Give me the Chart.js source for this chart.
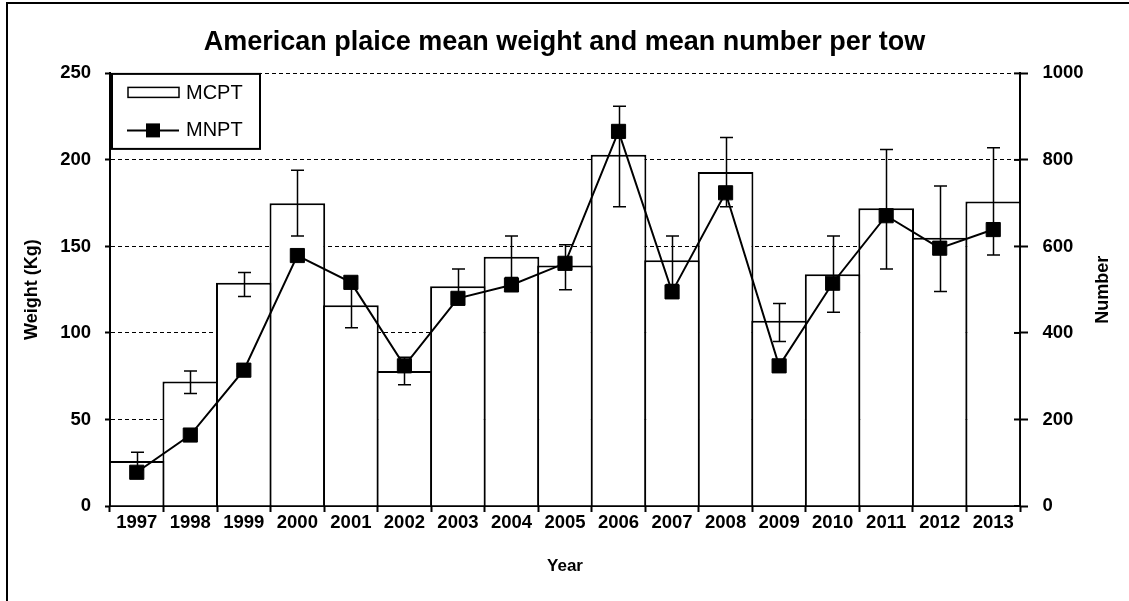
<!DOCTYPE html>
<html>
<head>
<meta charset="utf-8">
<title>American plaice mean weight and mean number per tow</title>
<script src="https://cdn.jsdelivr.net/npm/chart.js"></script>
<style>
    html, body { margin: 0; padding: 0; background: #fff; }
    #wrap { width: 1129px; height: 601px; }
</style>
</head>
<body>
<div id="wrap"><canvas id="plaice-chart" width="1129" height="601"></canvas></div>
<script>
    "use strict";

    // Data
    var years = ["1997", "1998", "1999", "2000", "2001", "2002", "2003", "2004", "2005",
                 "2006", "2007", "2008", "2009", "2010", "2011", "2012", "2013"];
    var mcpt = [26, 72, 129, 175, 116, 78, 127, 144, 139, 203, 142, 193, 107, 134, 172, 155, 176];
    var mcptLow = [21, 65, 121, 156, 103, 70, 117, 132, 125, 173, 128, 173, 95, 112, 137, 124, 145];
    var mcptHigh = [31, 78, 135, 194, 129, 86, 137, 156, 151, 231, 156, 213, 117, 156, 206, 185, 207];
    var mnpt = [78, 164, 314, 579, 517, 324, 480, 511, 561, 866, 495, 724, 324, 515, 671, 596, 639];
    var weightTicks = [0, 50, 100, 150, 200, 250];
    var numberTicks = [0, 200, 400, 600, 800, 1000];

    Chart.defaults.font.family = "'Liberation Sans', Arial, sans-serif";
    Chart.defaults.color = "#000";

    // Frame round the figure
    var framePlugin = {
        id: "frame",
        beforeDraw: function (chart) {
            var ctx = chart.ctx;
            ctx.save();
            ctx.fillStyle = "#fff";
            ctx.fillRect(0, 0, chart.width, chart.height);
            ctx.strokeStyle = "#000";
            ctx.lineWidth = 2;
            ctx.beginPath();
            ctx.moveTo(7, chart.height);
            ctx.lineTo(7, 3);
            ctx.lineTo(chart.width, 3);
            ctx.stroke();
            ctx.restore();
        }
    };

    // Error bars on the weight bars
    var errorBars = {
        id: "errorBars",
        afterDatasetDraw: function (chart, args) {
            if (args.index !== 0) return;
            var ctx = chart.ctx, y = chart.scales.y;
            var meta = chart.getDatasetMeta(0);
            ctx.save();
            ctx.strokeStyle = "#000";
            ctx.lineWidth = 1.5;
            meta.data.forEach(function (bar, i) {
                var x = Math.round(bar.x) + 0.5;
                var top = y.getPixelForValue(mcptHigh[i]);
                var bot = y.getPixelForValue(mcptLow[i]);
                ctx.beginPath();
                ctx.moveTo(x, top); ctx.lineTo(x, bot);
                ctx.moveTo(x - 6.5, top); ctx.lineTo(x + 6.5, top);
                ctx.moveTo(x - 6.5, bot); ctx.lineTo(x + 6.5, bot);
                ctx.stroke();
            });
            ctx.restore();
        }
    };

    // Legend box, inner ticks of the right axis and its title
    var extras = {
        id: "extras",
        afterDraw: function (chart) {
            var ctx = chart.ctx, a = chart.chartArea, y1 = chart.scales.y1;
            var ds = chart.data.datasets;
            ctx.save();
            ctx.strokeStyle = "#000";
            ctx.fillStyle = "#000";

            // right axis ticks reach into the plot too
            ctx.lineWidth = 2;
            y1.ticks.forEach(function (t) {
                var py = y1.getPixelForValue(t.value);
                ctx.beginPath();
                ctx.moveTo(a.right - 6, py);
                ctx.lineTo(a.right, py);
                ctx.stroke();
            });

            // legend
            var lx = a.left + 2, ly = a.top + 0.5;
            ctx.fillStyle = "#fff";
            ctx.fillRect(lx, ly, 148, 75);
            ctx.lineWidth = 2;
            ctx.strokeRect(lx, ly, 148, 75);
            ctx.lineWidth = 1.5;
            ctx.strokeRect(lx + 16, ly + 13.5, 51, 10);
            ctx.lineWidth = 2;
            ctx.beginPath();
            ctx.moveTo(lx + 15, ly + 56.5);
            ctx.lineTo(lx + 67, ly + 56.5);
            ctx.stroke();
            ctx.fillStyle = "#000";
            ctx.fillRect(lx + 34, ly + 49.5, 14, 14);
            ctx.font = "20px 'Liberation Sans', Arial, sans-serif";
            ctx.textBaseline = "middle";
            ctx.textAlign = "left";
            ctx.fillText(ds[0].label, lx + 74, ly + 19.5);
            ctx.fillText(ds[1].label, lx + 74, ly + 56.5);

            // right axis title reads bottom to top
            ctx.translate(1103, (a.top + a.bottom) / 2);
            ctx.rotate(-Math.PI / 2);
            ctx.textAlign = "center";
            ctx.font = "bold 18px 'Liberation Sans', Arial, sans-serif";
            ctx.fillText("Number", 0, 0);
            ctx.restore();
        }
    };

    var ctx1 = document.getElementById("plaice-chart").getContext("2d");
    var myChart1 = new Chart(ctx1, {
        type: "bar",
        data: {
            labels: years,
            datasets: [{
                    type: "bar",
                    label: "MCPT",
                    data: mcpt,
                    yAxisID: "y",
                    order: 2,
                    backgroundColor: "#fff",
                    borderColor: "#000",
                    borderWidth: 2,
                    barPercentage: 1.04,
                    categoryPercentage: 1
                },
                {
                    type: "line",
                    label: "MNPT",
                    data: mnpt,
                    yAxisID: "y1",
                    order: 1,
                    borderColor: "#000",
                    borderWidth: 2,
                    backgroundColor: "#000",
                    pointStyle: "rect",
                    pointRadius: 10,
                    pointBorderWidth: 1,
                    pointBackgroundColor: "#000",
                    pointBorderColor: "#000",
                    tension: 0,
                    fill: false
                }
            ]
        },
        options: {
            responsive: false,
            animation: false,
            devicePixelRatio: 1,
            layout: { padding: 0 },
            plugins: {
                legend: { display: false },
                tooltip: { enabled: false },
                title: {
                    display: true,
                    text: "American plaice mean weight and mean number per tow",
                    color: "#000",
                    font: { size: 27, weight: "bold" },
                    padding: { top: 26, bottom: 15 }
                }
            },
            scales: {
                x: {
                    grid: {
                        offset: true,
                        drawOnChartArea: false,
                        color: "#000",
                        tickLength: 6,
                        tickWidth: 2
                    },
                    border: { color: "#000", width: 2 },
                    ticks: {
                        color: "#000",
                        padding: 0,
                        maxRotation: 0,
                        autoSkip: false,
                        font: { size: 18.5, weight: "bold" }
                    },
                    title: {
                        display: true,
                        text: "Year",
                        color: "#000",
                        font: { size: 17, weight: "bold" },
                        padding: { top: 0, bottom: 24 }
                    },
                    afterFit: function (scale) { scale.height = 95; }
                },
                y: {
                    position: "left",
                    min: 0,
                    max: 250,
                    afterBuildTicks: function (scale) {
                        scale.ticks = weightTicks.map(function (v) { return { value: v }; });
                    },
                    grid: {
                        color: "#000",
                        lineWidth: 1,
                        tickLength: 5,
                        tickWidth: 2,
                        tickBorderDash: []
                    },
                    border: { color: "#000", width: 2, dash: [4, 3] },
                    ticks: {
                        color: "#000",
                        padding: 14,
                        font: { size: 18.5, weight: "bold" },
                        callback: function (v) { return String(v); }
                    },
                    title: {
                        display: true,
                        text: "Weight (Kg)",
                        color: "#000",
                        font: { size: 18, weight: "bold" },
                        padding: { top: 21, bottom: 0 }
                    },
                    afterFit: function (scale) { scale.width = 110; }
                },
                y1: {
                    position: "right",
                    min: 0,
                    max: 1000,
                    afterBuildTicks: function (scale) {
                        scale.ticks = numberTicks.map(function (v) { return { value: v }; });
                    },
                    grid: {
                        drawOnChartArea: false,
                        color: "#000",
                        tickLength: 8,
                        tickWidth: 2
                    },
                    border: { color: "#000", width: 2 },
                    ticks: {
                        color: "#000",
                        padding: 14.5,
                        font: { size: 18.5, weight: "bold" },
                        callback: function (v) { return String(v); }
                    },
                    title: { display: false },
                    afterFit: function (scale) { scale.width = 109; }
                }
            }
        },
        plugins: [framePlugin, errorBars, extras]
    });
</script>
</body>
</html>
